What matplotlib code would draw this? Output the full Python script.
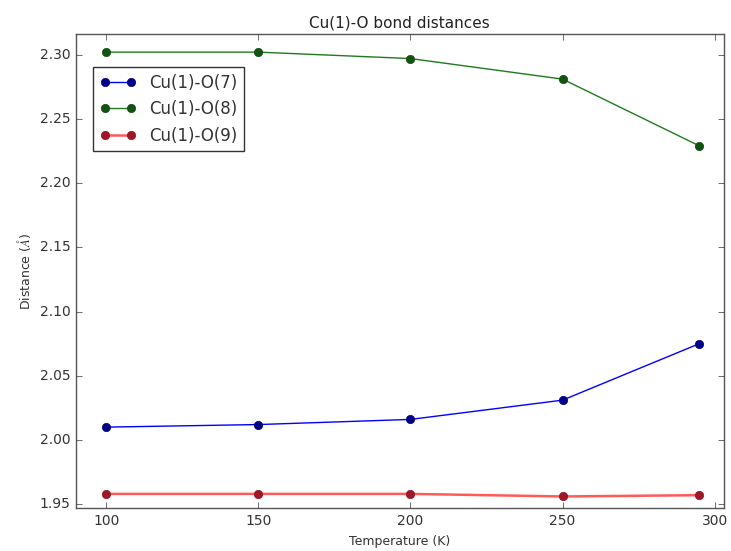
import numpy as np
import matplotlib
matplotlib.use("Agg")
import matplotlib.pyplot as plt

plt.style.use("classic")

temps = [100, 150, 200, 250, 295]
cu_o7 = [2.010, 2.012, 2.016, 2.031, 2.075]
cu_o8 = [2.302, 2.302, 2.297, 2.281, 2.229]
cu_o9 = [1.958, 1.958, 1.958, 1.956, 1.957]
labels = ["Cu(1)-O(7)", "Cu(1)-O(8)", "Cu(1)-O(9)"]

fig = plt.figure(figsize=(7.31, 5.51), dpi=100, facecolor="white")
ax = fig.add_axes([0.104, 0.078, 0.886, 0.86])

ax.plot(temps, cu_o7, "-o", color="b", markeredgecolor="#00007a", markerfacecolor="#00008b",
        markersize=6, lw=1, label=labels[0])
ax.plot(temps, cu_o8, "-o", color="#1f7a1f", markeredgecolor="#0b4d0b", markerfacecolor="#145214",
        markersize=6, lw=1, label=labels[1])
ax.plot(temps, cu_o9, "-o", color="#ff5a5a", markeredgecolor="#8b1020", markerfacecolor="#a01828",
        markersize=6, lw=1.8, label=labels[2])

ax.set_xlim(90, 303)
ax.set_ylim(1.947, 2.316)
ax.set_xticks([100, 150, 200, 250, 300])
ax.set_yticks(np.arange(1.95, 2.301, 0.05))
ax.set_yticklabels(["%.2f" % v for v in np.arange(1.95, 2.301, 0.05)])
ax.tick_params(labelsize=10, colors="#333333")
for s in ax.spines.values():
    s.set_color("#555555")

ax.set_title("Cu(1)-O bond distances", fontsize=11, color="#222222")
ax.set_xlabel("Temperature (K)", fontsize=9, color="#333333")
ax.set_ylabel("Distance ($\\AA$)", fontsize=9, color="#333333")

leg = ax.legend(loc="upper left", bbox_to_anchor=(0.026, 0.93), fontsize=12,
                numpoints=2, handlelength=2.2, borderaxespad=0)
leg.get_frame().set_edgecolor("#333333")
for t in leg.get_texts():
    t.set_color("#333333")

fig.savefig("out.png", dpi=100, facecolor="white")
